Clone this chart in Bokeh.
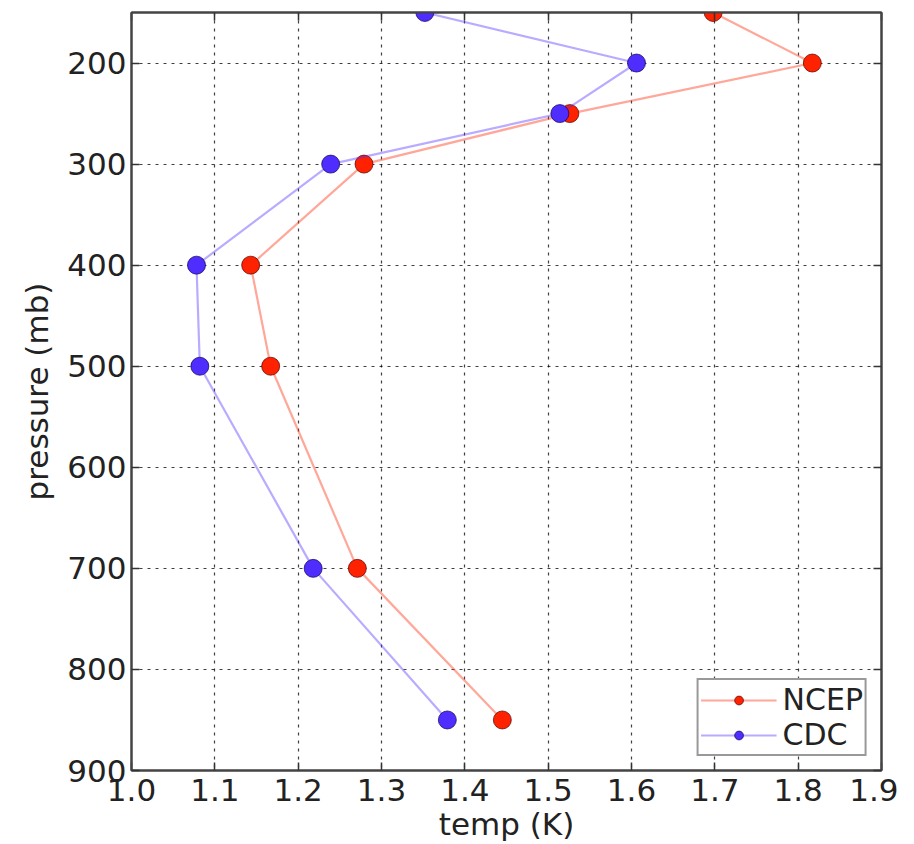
from bokeh.plotting import figure
from bokeh.models import Range1d, FixedTicker, LinearAxis, Legend, LegendItem, NumeralTickFormatter
from bokeh.embed import file_html
from bokeh.resources import INLINE

pressure = [150, 200, 250, 300, 400, 500, 700, 850]
ncep = [1.698, 1.817, 1.526, 1.279, 1.143, 1.167, 1.271, 1.445]
cdc = [1.352, 1.606, 1.514, 1.239, 1.078, 1.082, 1.218, 1.379]
x_ticks = [1.0, 1.1, 1.2, 1.3, 1.4, 1.5, 1.6, 1.7, 1.8, 1.9]
y_ticks = [200, 300, 400, 500, 600, 700, 800, 900]

FONT = "DejaVu Sans"
RED = "#ff2200"
BLUE = "#4f2dff"

p = figure(width=898, height=844, output_backend="svg", toolbar_location=None,
           x_range=Range1d(1.0, 1.9), y_range=Range1d(900, 150),
           min_border_left=131, min_border_right=17, min_border_top=12, min_border_bottom=10)

p.outline_line_color = "#444444"
p.outline_line_width = 2
p.background_fill_color = "white"
p.border_fill_color = "white"

for ax in (p.xaxis[0], p.yaxis[0]):
    ax.axis_line_color = "#444444"
    ax.axis_line_width = 2
    ax.major_tick_in = 8
    ax.major_tick_out = 0
    ax.major_tick_line_color = "#333333"
    ax.major_tick_line_width = 1.5
    ax.minor_tick_line_color = None
    ax.major_label_text_font = FONT
    ax.major_label_text_font_size = "31px"
    ax.major_label_text_color = "#222222"
    ax.axis_label_text_font = FONT
    ax.axis_label_text_font_size = "31px"
    ax.axis_label_text_font_style = "normal"
    ax.axis_label_text_color = "#222222"

p.xaxis[0].ticker = FixedTicker(ticks=x_ticks)
p.xaxis[0].formatter = NumeralTickFormatter(format="0.0")
p.yaxis[0].ticker = FixedTicker(ticks=y_ticks)
p.xaxis[0].axis_label = "temp (K)"
p.yaxis[0].axis_label = "pressure (mb)"
p.xaxis[0].major_label_standoff = 8
p.xaxis[0].axis_label_standoff = 2
p.yaxis[0].major_label_standoff = 5
p.yaxis[0].axis_label_standoff = 9

for loc, tk in (("above", x_ticks), ("right", y_ticks)):
    a = LinearAxis(ticker=FixedTicker(ticks=tk), major_label_text_font_size="0px",
                   major_label_standoff=0, major_tick_in=8, major_tick_out=0,
                   major_tick_line_color="#333333", major_tick_line_width=1.5,
                   minor_tick_line_color=None, axis_line_color="#444444", axis_line_width=2)
    p.add_layout(a, loc)

for g in (p.xgrid[0], p.ygrid[0]):
    g.grid_line_color = "black"
    g.grid_line_alpha = 0.75
    g.grid_line_dash = "3 5"
    g.grid_line_width = 1.2
p.xgrid[0].ticker = FixedTicker(ticks=x_ticks)
p.ygrid[0].ticker = FixedTicker(ticks=y_ticks)

l1 = p.line(ncep, pressure, line_color=RED, line_alpha=0.4, line_width=2.2)
s1 = p.scatter(ncep, pressure, size=18, fill_color=RED, line_color="#550000", line_alpha=0.7, line_width=1)
l2 = p.line(cdc, pressure, line_color=BLUE, line_alpha=0.4, line_width=2.2)
s2 = p.scatter(cdc, pressure, size=18, fill_color=BLUE, line_color="#110055", line_alpha=0.7, line_width=1)

legend = Legend(items=[LegendItem(label="NCEP", renderers=[l1, s1]),
                       LegendItem(label="CDC", renderers=[l2, s2])],
                location="bottom_right", margin=14, padding=2, spacing=0,
                label_text_font=FONT, label_text_font_size="30px", label_text_color="#222222",
                label_standoff=6, glyph_width=76, glyph_height=22,
                border_line_color="#333333", border_line_width=2,
                background_fill_alpha=1.0)
p.add_layout(legend, "center")

open("out.html", "w").write(file_html(p, INLINE))
